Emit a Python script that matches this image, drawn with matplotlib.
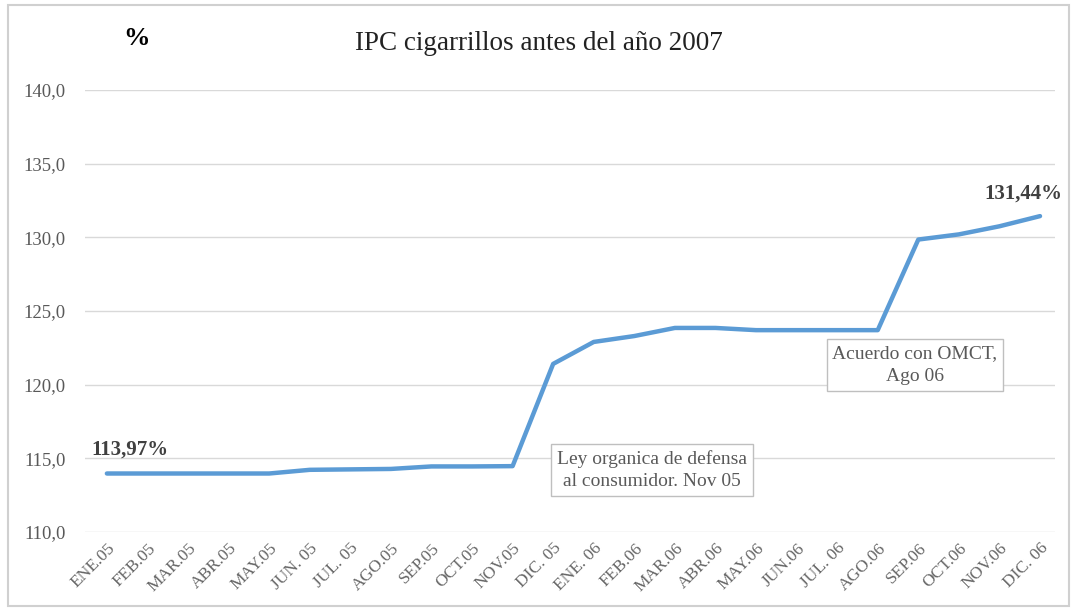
import matplotlib
matplotlib.use("Agg")
import matplotlib.pyplot as plt
from matplotlib.patches import Rectangle
from matplotlib.transforms import ScaledTranslation

months = ["ENE.05", "FEB.05", "MAR.05", "ABR.05", "MAY.05", "JUN. 05", "JUL. 05",
          "AGO.05", "SEP.05", "OCT.05", "NOV.05", "DIC. 05", "ENE. 06", "FEB.06",
          "MAR.06", "ABR.06", "MAY.06", "JUN.06", "JUL. 06", "AGO.06", "SEP.06",
          "OCT.06", "NOV.06", "DIC. 06"]
ipc = [113.97, 113.97, 113.97, 113.97, 113.97, 114.22, 114.25, 114.28, 114.45,
       114.45, 114.47, 121.41, 122.90, 123.30, 123.85, 123.85, 123.70, 123.70,
       123.70, 123.70, 129.85, 130.20, 130.75, 131.44]
yticks = [110, 115, 120, 125, 130, 135, 140]

plt.rcParams['font.family'] = ['Liberation Serif', 'DejaVu Serif']

fig = plt.figure(figsize=(10.77, 6.11), dpi=100)
fig.patches.append(Rectangle((0.007, 0.008), 0.986, 0.984, transform=fig.transFigure,
                             fill=False, edgecolor='#d0d0d0', linewidth=1.5))
ax = fig.add_axes([0.0789, 0.1293, 0.9007, 0.7234])

x = list(range(len(months)))
ax.plot(x, ipc, color='#5B9BD5', linewidth=3.2, solid_capstyle='round', zorder=3)

ax.set_ylim(110, 140)
ax.set_xlim(-0.54, 23.37)
ax.set_yticks(yticks)
ax.set_yticklabels([f"{v:.1f}".replace('.', ',') for v in yticks], fontsize=13.5, color='#595959')
ax.set_xticks(x)
ax.set_xticklabels(months, rotation=45, ha='right', rotation_mode='anchor',
                   fontsize=12.5, color='#666666')
shift = ScaledTranslation(-5 / 100, 0, fig.dpi_scale_trans)
for lbl in ax.get_xticklabels():
    lbl.set_transform(lbl.get_transform() + shift)
ax.tick_params(axis='both', length=0)
ax.tick_params(axis='y', pad=14)
ax.tick_params(axis='x', pad=6)
ax.grid(axis='y', color='#d9d9d9', linewidth=1)
ax.set_axisbelow(True)
for s in ax.spines.values():
    s.set_visible(False)

fig.text(0.5, 0.928, "IPC cigarrillos antes del año 2007", ha='center', va='center',
         fontsize=19.5, color='#222222')
fig.text(0.127, 0.937, "%", ha='center', va='center', fontsize=19, fontweight='bold',
         color='black')

ax.text(0.57, 115.6, "113,97%", ha='center', va='center', fontsize=15,
        fontweight='bold', color='#404040')
ax.text(22.58, 133.0, "131,44%", ha='center', va='center', fontsize=15,
        fontweight='bold', color='#404040', clip_on=False)

box = dict(boxstyle='square,pad=0.3', facecolor='white', edgecolor='#bfbfbf', linewidth=1)
ax.text(13.43, 114.2, "Ley organica de defensa\nal consumidor. Nov 05", ha='center',
        va='center', fontsize=14, color='#595959', bbox=box, zorder=4, linespacing=1.45)
ax.text(19.92, 121.34, "Acuerdo con OMCT,\nAgo 06", ha='center', va='center',
        fontsize=14, color='#595959', bbox=box, zorder=4, linespacing=1.45)

fig.savefig("out.png", dpi=100)
